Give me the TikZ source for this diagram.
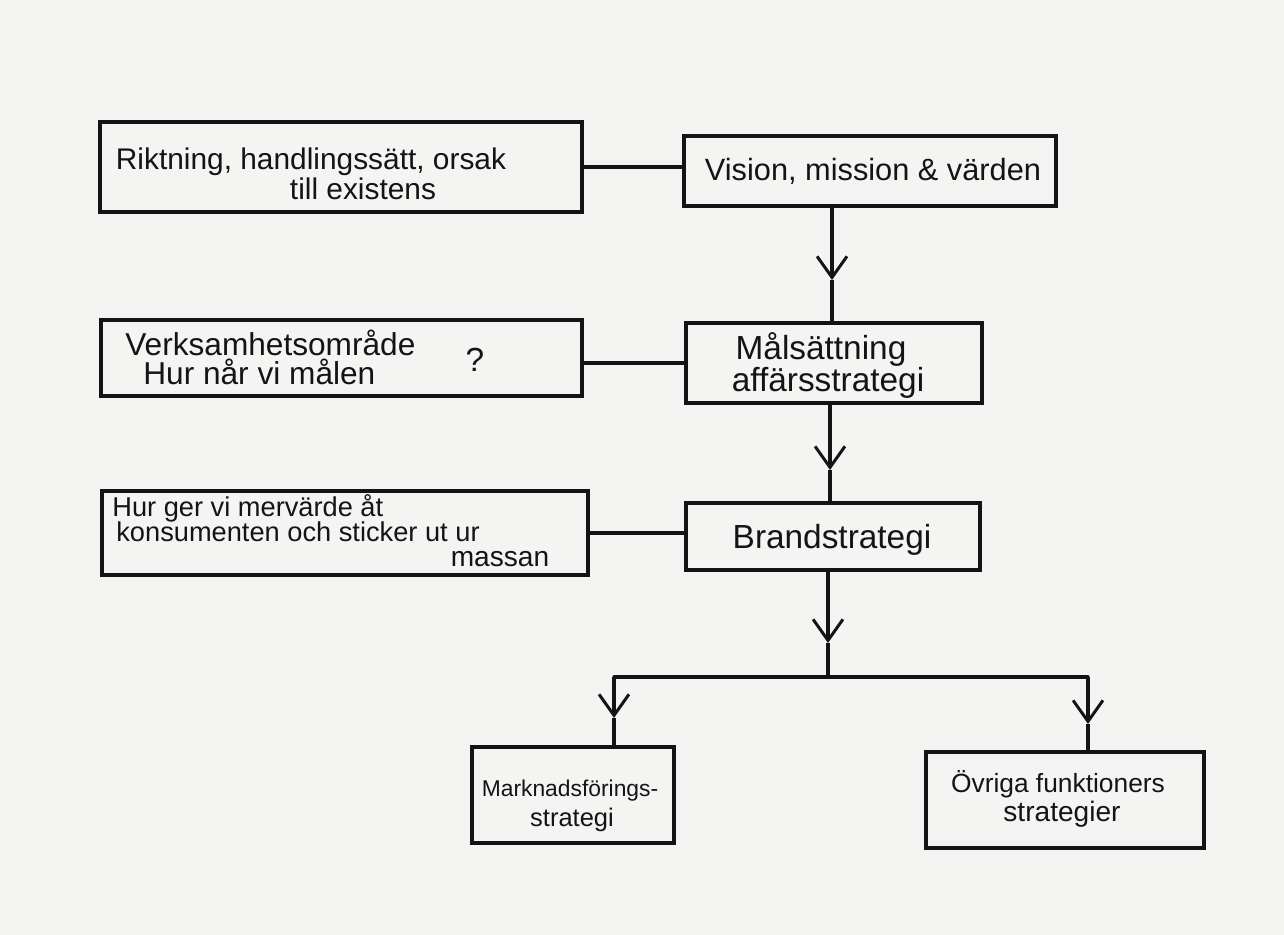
\documentclass[tikz,border=0pt]{standalone}
\usepackage{fontspec}
\setmainfont{Liberation Sans}
\usetikzlibrary{arrows.meta}
\definecolor{paper}{RGB}{244,244,243}
\definecolor{ink}{RGB}{20,20,20}
\newcommand{\fs}[1]{\fontsize{#1}{#1}\selectfont}
\begin{document}
\begin{tikzpicture}[x=0.02cm,y=-0.02cm,
  box/.style={draw=ink,line width=1.8pt,rectangle,inner sep=0pt},
  txt/.style={text=ink,inner sep=0pt,font=\fs{15}},
  conn/.style={draw=ink,line width=1.8pt},
  vtip/.style={conn,-{Straight Barb[length=12pt,width=17pt,line width=1.7pt]}}]
\fill[paper] (0,0) rectangle (1284,935);
\useasboundingbox (0,0) rectangle (1284,935);
% boxes
\node[box,minimum width=9.64cm,minimum height=1.8cm] (r1) at (341,167) {};
\node[box,minimum width=7.44cm,minimum height=1.4cm] (v) at (870,171) {};
\node[box,minimum width=9.62cm,minimum height=1.52cm] (l2) at (341.5,358) {};
\node[box,minimum width=5.92cm,minimum height=1.6cm] (m) at (834,363) {};
\node[box,minimum width=9.72cm,minimum height=1.68cm] (l3) at (345,533) {};
\node[box,minimum width=5.88cm,minimum height=1.34cm] (b) at (833,536.5) {};
\node[box,minimum width=4.04cm,minimum height=1.92cm] (mk) at (573,795) {};
\node[box,minimum width=5.56cm,minimum height=1.92cm] (o) at (1065,800) {};
% texts
\node[txt,font=\fs{17}] (r1a) at (311,162) {Riktning, handlingssätt, orsak};
\node[txt,font=\fs{17}] (r1b) at (363,189) {till existens};
\node[txt,font=\fs{17.5}] (vt) at (873,171) {Vision, mission \& värden};
\node[txt,font=\fs{18},anchor=west] (l2a) at (125,343) {Verksamhetsområde};
\node[txt,font=\fs{18},anchor=west] (l2b) at (143,372) {Hur når vi målen};
\node[txt,font=\fs{19}] (l2q) at (475,360) {?};
\node[txt,font=\fs{19}] (ma) at (821,350) {Målsättning};
\node[txt,font=\fs{19}] (mb) at (828,383) {affärsstrategi};
\node[txt,font=\fs{19}] (bt) at (832,540) {Brandstrategi};
\node[txt,font=\fs{15.5},anchor=west] (l3a) at (112,508) {Hur ger vi mervärde åt};
\node[txt,font=\fs{15.5},anchor=west] (l3b) at (116,532) {konsumenten och sticker ut ur};
\node[txt,font=\fs{16}] (l3c) at (500,559) {massan};
\node[txt,font=\fs{13}] (mka) at (570,791) {Marknadsförings-};
\node[txt,font=\fs{14.5}] (mkb) at (572,820) {strategi};
\node[txt] (oa) at (1058,784) {Övriga funktioners};
\node[txt,font=\fs{16}] (ob) at (1062,814) {strategier};
% connector coordinates
\coordinate (a1) at (832,280);
\coordinate (a2) at (830,470);
\coordinate (a3) at (828,643);
\coordinate (j) at (828,677);
\coordinate (jl) at (614,677);
\coordinate (jr) at (1088,677);
\coordinate (a4) at (614,718);
\coordinate (a5) at (1088,724);
% side connectors
\draw[conn] (r1.east) -- (r1.east -| v.west);
\draw[conn] (l2.east |- m.west) -- (m.west);
\draw[conn] (l3.east) -- (l3.east -| b.west);
% vertical chain
\draw[vtip] (v.south -| a1) -- (a1);
\draw[conn] (a1) -- (m.north -| a1);
\draw[vtip] (m.south -| a2) -- (a2);
\draw[conn] (a2) -- (b.north -| a2);
\draw[vtip] (b.south -| a3) -- (a3);
\draw[conn] (a3) -- (j);
\draw[conn,line cap=round] (jl) -- (jr);
\draw[vtip] (jl) -- (a4);
\draw[conn] (a4) -- (mk.north -| a4);
\draw[vtip] (jr) -- (a5);
\draw[conn] (a5) -- (o.north -| a5);
\end{tikzpicture}
\end{document}
